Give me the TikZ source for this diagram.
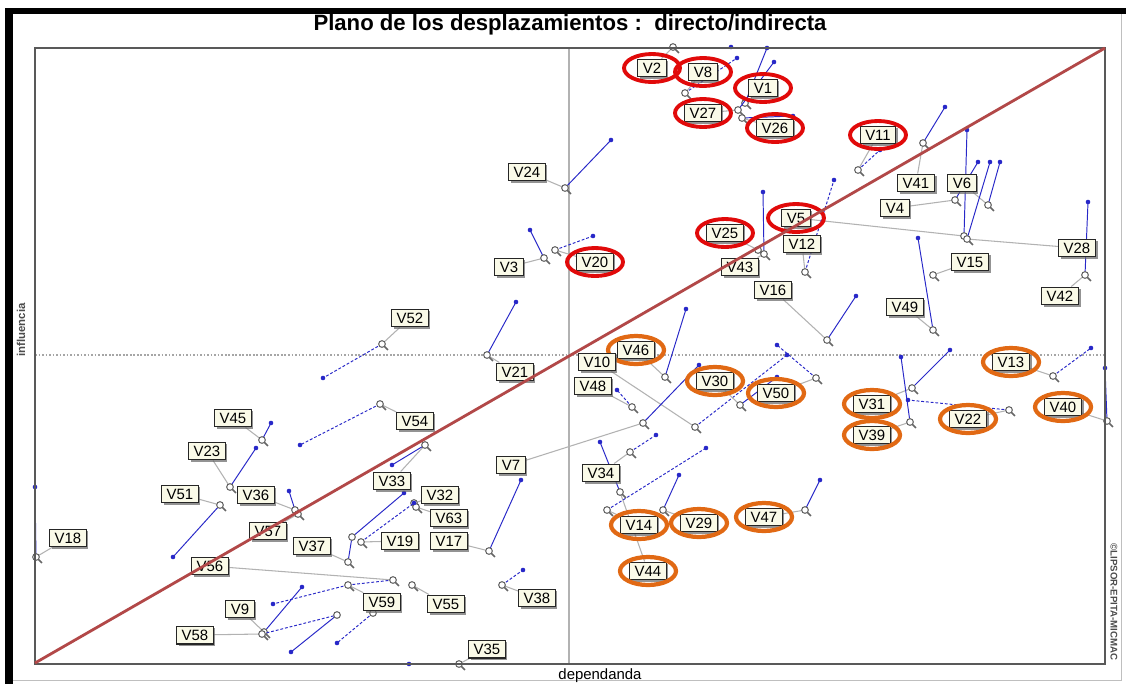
\documentclass[tikz,border=0pt]{standalone}
\usepackage{fontspec}
\setmainfont{Liberation Sans}
\usetikzlibrary{shadows}

\pgfdeclarelayer{bg}
\pgfsetlayers{bg,main}

\definecolor{diagred}{RGB}{178,72,72}
\definecolor{dispblue}{RGB}{40,40,200}
\definecolor{ringred}{RGB}{225,10,10}
\definecolor{ringorange}{RGB}{225,105,20}
\definecolor{boxfill}{RGB}{250,250,232}

\tikzset{
  lbl/.style={draw=black!85, fill=boxfill, line width=0.6pt, inner xsep=2.8pt, inner ysep=2pt,
    text height=6.2pt, text depth=0pt, font=\fontsize{8.5}{9}\selectfont,
    drop shadow={shadow xshift=1.3pt, shadow yshift=-1.3pt, fill=black!60, opacity=0.7}},
  leader/.style={draw=black!30, line width=0.6pt},
  dsp/.style={draw=dispblue, line width=0.55pt},
  dsd/.style={dsp, dash pattern=on 1.6pt off 1.1pt},
  dsn/.style={draw=none},
  hlr/.style={draw=ringred, line width=2.2pt},
  hlo/.style={draw=ringorange, line width=2.4pt},
  hln/.style={draw=none},
  mk/.style={draw=black!60, fill=white, line width=0.6pt},
  mktail/.style={draw=black!60, line width=0.9pt},
  bdot/.style={fill=dispblue},
}

\begin{document}
\begin{tikzpicture}[x=0.02cm, y=-0.02cm]
\newcommand{\ringrx}{0.56cm} % ring radii
\newcommand{\ringry}{0.28cm}

\useasboundingbox (0,0) rectangle (1126,684);

% plot area
\coordinate (TL) at (35,48);
\coordinate (BR) at (1105,664);
\coordinate (O)  at (35,663);
\coordinate (E)  at (1105,48);
\coordinate (VT) at (569,48);
\coordinate (VB) at (569,664);
\coordinate (HL) at (35,355);
\coordinate (HR) at (1105,355);

\begin{pgfonlayer}{bg}
\fill[white] (0,0) rectangle (1126,684);
\draw[black!30, line width=0.6pt] (VT) -- (VB);
\draw[black!35, line width=1.2pt, dash pattern=on 1pt off 1pt] (HL) -- (HR);
\end{pgfonlayer}

% outer window
\fill[black] (5,8) rectangle (1126,14);
\fill[black] (5,8) rectangle (13,684);
\draw[black!25] (13,680) -- (1121,680) -- (1121,14);

\node[font=\bfseries\fontsize{12.6}{14}\selectfont] (title) at (570,25)
  {Plano de los desplazamientos :\ \ directo/indirecta};

% variables: name / label / direct point / indirect point / line / ring
\foreach \n/\lx/\ly/\mx/\my/\dx/\dy/\ls/\hl in {
  V2/652/68/673/47/731/47/dsd/hlr,
  V8/703/72/685/93/737/58/dsd/hlr,
  V1/763/88/745/103/767/48/dsp/hlr,
  V27/703/113/738/110/774/62/dsp/hlr,
  V26/775/128/742/118/793/116/dsp/hlr,
  V11/878/135/858/170/880/150/dsd/hlr,
  V24/527/172/565/188/611/140/dsp/hln,
  V41/916/183/923/143/945/107/dsp/hln,
  V6/962/183/988/205/1000/162/dsp/hln,
  V4/895/208/955/200/978/162/dsp/hln,
  V5/796/218/964/236/967/130/dsp/hlr,
  V28/1077/248/967/239/990/162/dsp/hln,
  V25/725/233/758/250/758/250/dsn/hlr,
  V43/740/267/764/254/763/192/dsp/hln,
  V12/802/244/805/272/834/180/dsd/hln,
  V20/595/262/555/250/593/236/dsd/hlr,
  V3/509/267/544/258/530/230/dsp/hln,
  V15/970/262/933/275/933/275/dsn/hln,
  V42/1060/296/1085/275/1088/202/dsp/hln,
  V16/773/290/827/340/856/296/dsp/hln,
  V49/905/307/933/330/918/238/dsp/hln,
  V52/410/318/382/344/323/378/dsd/hln,
  V46/636/350/665/377/686/309/dsp/hlo,
  V10/597/362/695/427/787/355/dsd/hln,
  V21/515/372/487/355/516/302/dsp/hln,
  V13/1011/362/1053/376/1091/348/dsd/hlo,
  V48/593/386/632/407/617/390/dsd/hln,
  V30/715/381/740/405/777/377/dsp/hlo,
  V50/776/393/816/378/777/345/dsd/hlo,
  V31/872/404/912/388/950/350/dsp/hlo,
  V39/872/435/910/422/901/357/dsp/hlo,
  V22/968/419/1009/410/908/400/dsd/hlo,
  V40/1063/407/1107/421/1105/368/dsp/hlo,
  V45/233/418/262/440/271/423/dsp/hln,
  V23/207/451/230/487/256/448/dsp/hln,
  V54/415/421/380/404/300/445/dsd/hln,
  V33/392/481/425/445/392/465/dsp/hln,
  V7/511/465/643/423/699/365/dsp/hln,
  V34/601/473/630/452/656/435/dsd/hln,
  V44/648/571/620/492/600/442/dsp/hlo,
  V14/639/525/607/510/706/448/dsd/hlo,
  V29/699/523/663/510/679/475/dsp/hlo,
  V47/764/517/805/510/820/480/dsp/hlo,
  V51/180/494/220/505/173/557/dsp/hln,
  V36/256/495/295/510/289/491/dsp/hln,
  V57/268/531/298/514/298/514/dsn/hln,
  V32/440/495/414/503/414/503/dsn/hln,
  V63/449/518/416/507/416/507/dsn/hln,
  V19/400/541/361/542/414/503/dsd/hln,
  V37/312/546/348/562/352/537/dsp/hln,
  V17/449/541/489/551/521/480/dsp/hln,
  V18/68/538/36/557/35/487/dsp/hln,
  V56/210/566/393/580/348/585/dsd/hln,
  V59/382/602/348/585/273/604/dsd/hln,
  V55/446/604/412/585/412/585/dsn/hln,
  V9/240/609/264/632/302/587/dsp/hln,
  V58/195/635/262/634/337/615/dsd/hln,
  V38/537/598/502/585/523/570/dsd/hln,
  V35/487/649/459/664/409/664/dsp/hln}{
  \coordinate (m\n) at (\mx,\my);
  \coordinate (d\n) at (\dx,\dy);
  \node[lbl] (\n) at (\lx,\ly) {\n};
  \begin{pgfonlayer}{bg}
  \draw[leader] (\n) -- (m\n);
  \draw[\ls] (m\n) -- (d\n);
  \fill[bdot] (d\n) circle (1.3pt);
  \draw[mktail] (m\n) ++(1.2pt,-1.2pt) -- ++(2.2pt,-2.2pt);
  \draw[mk] (m\n) circle (1.9pt);
  \end{pgfonlayer}
  \draw[\hl] (\n.center) ellipse [x radius=\ringrx, y radius=\ringry];
}

% loose displacements
\foreach \a/\ax/\ay/\bx/\by/\ls in {x1/337/615/291/652/dsp, x2/373/613/337/643/dsd, x3/352/537/404/493/dsp}{
  \coordinate (\a a) at (\ax,\ay);
  \coordinate (\a b) at (\bx,\by);
  \begin{pgfonlayer}{bg}
  \draw[\ls] (\a a) -- (\a b);
  \fill[bdot] (\a b) circle (1.3pt);
  \draw[mk] (\a a) circle (1.9pt);
  \end{pgfonlayer}
}

% frame and diagonal
\draw[black!65, line width=1.1pt] (TL) rectangle (BR);
\draw[diagred, line width=1.6pt] (O) -- (E);

\node[rotate=90, font=\bfseries\fontsize{6.5}{7}\selectfont, text=black!70] (infl) at (21,330) {influencia};
\node[rotate=-90, font=\bfseries\fontsize{5.5}{6}\selectfont, text=black!70] (copy) at (1114,602) {©LIPSOR-EPITA-MICMAC};
\node[font=\fontsize{8.5}{9}\selectfont] (dep) at (600,676) {dependanda};
\end{tikzpicture}
\end{document}
